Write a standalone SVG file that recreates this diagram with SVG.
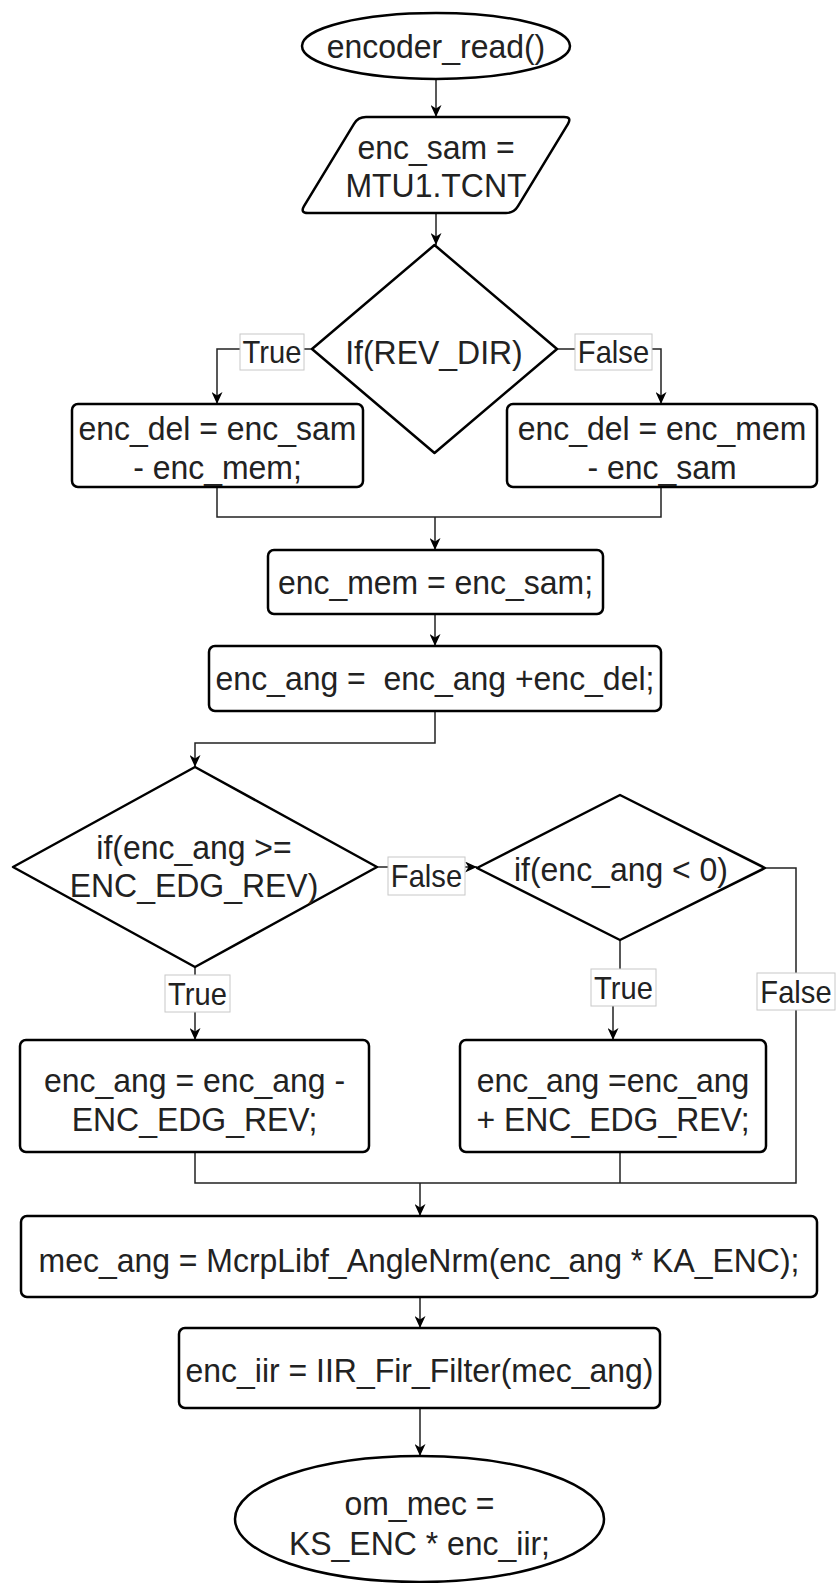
<svg xmlns="http://www.w3.org/2000/svg" width="837" height="1583" viewBox="0 0 837 1583">
  <defs>
    <style>
      .shape { fill: #ffffff; stroke: #000000; stroke-width: 2.5; stroke-linejoin: round; }
      .edge { fill: none; stroke: #222222; stroke-width: 1.5; }
      .txt, .lbl { font-family: "Liberation Sans", Arial, sans-serif; fill: #222222; text-anchor: middle;
                   transform: scaleX(0.94); transform-box: fill-box; transform-origin: center; }
      .txt { font-size: 34px; }
      .lbl { font-size: 31px; }
      .lblbox { fill: #ffffff; stroke: #c8c8c8; stroke-width: 1; }
    </style>
    <marker id="arrow" markerUnits="userSpaceOnUse" viewBox="0 0 12 11" refX="12" refY="5.5" markerWidth="12" markerHeight="11" orient="auto">
      <path d="M0,0 L12,5.5 L0,11 L3.5,5.5 Z" fill="#000000"/>
    </marker>
  </defs>
  <rect width="837" height="1583" fill="#ffffff"/>

  <!-- connectors -->
  <g id="connectors">
    <path class="edge" d="M436,79 L436,117" marker-end="url(#arrow)"/>
    <path class="edge" d="M436,213 L436,245" marker-end="url(#arrow)"/>
    <path class="edge" d="M312,349 L217,349 L217,404" marker-end="url(#arrow)"/>
    <path class="edge" d="M557,349 L661,349 L661,404" marker-end="url(#arrow)"/>
    <path class="edge" d="M217,487 L217,517 L661,517 L661,487"/>
    <path class="edge" d="M435,517 L435,550" marker-end="url(#arrow)"/>
    <path class="edge" d="M435,614 L435,646" marker-end="url(#arrow)"/>
    <path class="edge" d="M435,711 L435,743 L195,743 L195,767" marker-end="url(#arrow)"/>
    <path class="edge" d="M377,867 L477,867" marker-end="url(#arrow)"/>
    <path class="edge" d="M195,967 L195,1040" marker-end="url(#arrow)"/>
    <path class="edge" d="M620,940 L620,988 L613,988 L613,1040" marker-end="url(#arrow)"/>
    <path class="edge" d="M765,868 L796,868 L796,1183 L195,1183 L195,1152"/>
    <path class="edge" d="M620,1152 L620,1183"/>
    <path class="edge" d="M420,1183 L420,1216" marker-end="url(#arrow)"/>
    <path class="edge" d="M420,1297 L420,1328" marker-end="url(#arrow)"/>
    <path class="edge" d="M420,1408 L420,1456" marker-end="url(#arrow)"/>

    <!-- branch labels -->
    <g id="lbl-true-1"><rect class="lblbox" x="240" y="334" width="64" height="36"/><text class="lbl" x="272" y="363">True</text></g>
    <g id="lbl-false-1"><rect class="lblbox" x="575" y="334" width="77" height="36"/><text class="lbl" x="613.5" y="363">False</text></g>
    <g id="lbl-false-2"><rect class="lblbox" x="388" y="857" width="77" height="38"/><text class="lbl" x="426.5" y="887">False</text></g>
    <g id="lbl-true-2"><rect class="lblbox" x="165" y="975" width="65" height="37"/><text class="lbl" x="197.5" y="1005">True</text></g>
    <g id="lbl-true-3"><rect class="lblbox" x="591" y="969" width="65" height="37"/><text class="lbl" x="623.5" y="999">True</text></g>
    <g id="lbl-false-3"><rect class="lblbox" x="757" y="973" width="78" height="37"/><text class="lbl" x="796" y="1003">False</text></g>
  </g>

  <!-- nodes -->
  <g id="start">
    <ellipse class="shape" cx="436" cy="46" rx="134" ry="33"/>
    <text class="txt" x="436" y="58">encoder_read()</text>
  </g>

  <g id="sample">
    <path class="shape" d="M366,117 L564,117 Q572,117 568,123.8 L518,206.2 Q514,213 506,213 L308,213 Q300,213 304,206.2 L354,123.8 Q358,117 366,117 Z"/>
    <text class="txt" x="436" y="159">enc_sam =</text>
    <text class="txt" x="436" y="197">MTU1.TCNT</text>
  </g>

  <g id="dir-check">
    <path class="shape" d="M434.5,245 L557,349 L434.5,453 L312,349 Z"/>
    <text class="txt" x="434" y="364">If(REV_DIR)</text>
  </g>

  <g id="delta-true">
    <rect class="shape" x="72" y="404" width="291" height="83" rx="6"/>
    <text class="txt" x="217.5" y="440">enc_del = enc_sam</text>
    <text class="txt" x="217.5" y="479">- enc_mem;</text>
  </g>

  <g id="delta-false">
    <rect class="shape" x="507" y="404" width="310" height="83" rx="6"/>
    <text class="txt" x="662" y="440">enc_del = enc_mem</text>
    <text class="txt" x="662" y="479">- enc_sam</text>
  </g>

  <g id="store">
    <rect class="shape" x="268" y="550" width="335" height="64" rx="6"/>
    <text class="txt" x="435.5" y="594">enc_mem = enc_sam;</text>
  </g>

  <g id="accumulate">
    <rect class="shape" x="209" y="646" width="452" height="65" rx="6"/>
    <text class="txt" x="435" y="690" xml:space="preserve">enc_ang =  enc_ang +enc_del;</text>
  </g>

  <g id="upper-check">
    <path class="shape" d="M195,767 L377,867 L195,967 L13,867 Z"/>
    <text class="txt" x="194" y="859">if(enc_ang &gt;=</text>
    <text class="txt" x="194" y="897">ENC_EDG_REV)</text>
  </g>

  <g id="lower-check">
    <path class="shape" d="M620,795 L765,868 L620,940 L477,868 Z"/>
    <text class="txt" x="621" y="881">if(enc_ang &lt; 0)</text>
  </g>

  <g id="wrap-down">
    <rect class="shape" x="20" y="1040" width="349" height="112" rx="6"/>
    <text class="txt" x="194.5" y="1092">enc_ang = enc_ang -</text>
    <text class="txt" x="194.5" y="1131">ENC_EDG_REV;</text>
  </g>

  <g id="wrap-up">
    <rect class="shape" x="460" y="1040" width="306" height="112" rx="6"/>
    <text class="txt" x="613" y="1092">enc_ang =enc_ang</text>
    <text class="txt" x="613" y="1131">+ ENC_EDG_REV;</text>
  </g>

  <g id="normalize">
    <rect class="shape" x="21" y="1216" width="796" height="81" rx="6"/>
    <text class="txt" x="419" y="1272">mec_ang = McrpLibf_AngleNrm(enc_ang * KA_ENC);</text>
  </g>

  <g id="filter">
    <rect class="shape" x="179" y="1328" width="481" height="80" rx="6"/>
    <text class="txt" x="419.5" y="1382">enc_iir = IIR_Fir_Filter(mec_ang)</text>
  </g>

  <g id="end">
    <ellipse class="shape" cx="419.5" cy="1519" rx="184.5" ry="63"/>
    <text class="txt" x="419.5" y="1515">om_mec =</text>
    <text class="txt" x="419.5" y="1555">KS_ENC * enc_iir;</text>
  </g>
</svg>
